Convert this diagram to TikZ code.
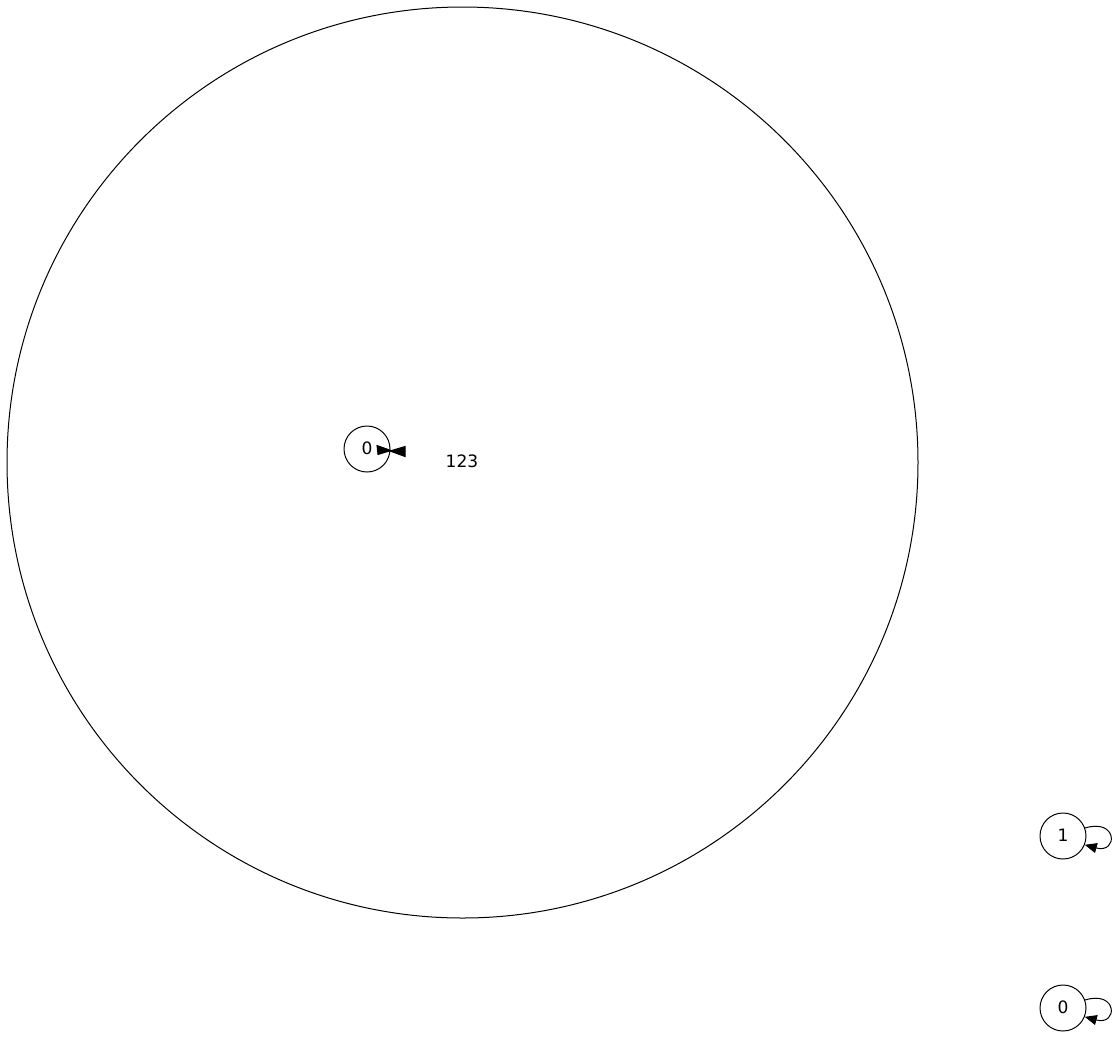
\documentclass[tikz,border=0pt]{standalone}
\usepackage{fontspec}
\setmainfont{DejaVu Sans}
\usetikzlibrary{arrows.meta}
\begin{document}
\begin{tikzpicture}[x=0.75pt,y=-0.75pt,
  gnode/.style={draw,circle,minimum size=46*0.75pt,inner sep=0pt,line width=0.75pt,font=\fontsize{12.8}{14}\selectfont},
  glabel/.style={font=\fontsize{12.8}{14}\selectfont,inner sep=0pt},
  gedge/.style={line width=0.75pt,-{Triangle[length=9pt,width=7.5pt]}},
  ghead/.style={fill=black,draw=black,line width=0.75pt}]
\useasboundingbox (0,0) rectangle (1117,1040);
\node[gnode] (a) at (367,449) {\raisebox{1.5pt}{0}};
\node[gnode] (b) at (1063,836) {\raisebox{1pt}{1}};
\node[gnode] (c) at (1063,1008) {\raisebox{1pt}{0}};
\coordinate (loopc) at (462.5,462.5);
\node[glabel] (lab) at (462,461) {123};
% large loop of node a
\draw[line width=0.75pt] (loopc) circle[radius=455.5];
\fill[ghead] (377,445.5) -- (391,450.5) -- (378,454.5) -- cycle;
\fill[ghead] (390,451) -- (405,446.5) -- (405,456.5) -- cycle;
% self loops
\draw[gedge] (b.20) .. controls (1118,818) and (1118,854) .. (b.-22);
\draw[gedge] (c.20) .. controls (1118,990) and (1118,1026) .. (c.-22);
\end{tikzpicture}
\end{document}
